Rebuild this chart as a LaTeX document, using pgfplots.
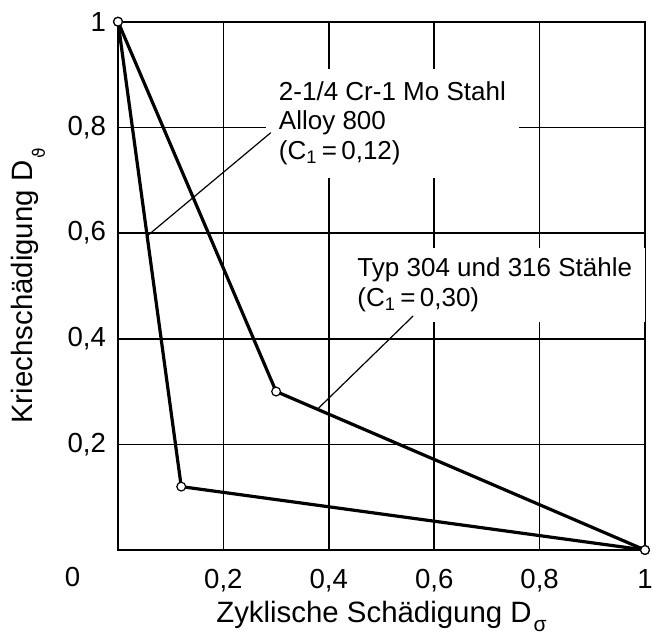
\documentclass[border=0pt]{standalone}
\usepackage{fontspec}
\setmainfont{Liberation Sans}
\newfontfamily\dejavu{DejaVu Sans}
\usepackage{pgfplots}
\pgfplotsset{compat=1.18}

\begin{document}
\begin{tikzpicture}
\begin{axis}[
    scale only axis,
    width=263.5pt, height=264.15pt,
    xmin=0, xmax=1, ymin=0, ymax=1,
    xtick={0.2,0.4,0.6,0.8,1},
    ytick={0.2,0.4,0.6,0.8,1},
    xticklabels={{0,2},{0,4},{0,6},{0,8},1},
    yticklabels={{0,2},{0,4},{0,6},{0,8},1},
    major tick length=0pt,
    grid=major,
    major grid style={black, line width=0.85pt},
    axis line style={black, line width=1.2pt},
    tick label style={font=\fontsize{13.8}{16}\selectfont},
    xticklabel style={yshift=-6pt},
    yticklabel style={xshift=-2.5pt},
    label style={font=\fontsize{14.7}{16}\selectfont},
    xlabel={Zyklische Schädigung D\hspace{1pt}\raisebox{-4.5pt}{\fontsize{10.5}{10.5}\selectfont σ}},
    ylabel={Kriechschädigung D\hspace{1pt}\raisebox{-6pt}{\fontsize{8.5}{8.5}\dejavu ϑ}},
    xlabel style={at={(axis description cs:0.5,-0.138)}, anchor=base},
    ylabel style={at={(axis description cs:-0.1615,0.5)}, anchor=base, rotate=0},
    clip=false,
]

% labels with white boxes (drawn before the curves, over the grid)
\node[fill=white, anchor=west, align=left, inner xsep=6.5pt, inner ysep=6.5pt,
      font=\fontsize{13}{14.7}\selectfont]
    at (axis cs:0.280,0.808)
    {2-1/4 Cr-1 Mo Stahl\\Alloy 800\\(C\textsubscript{1}\,=\,0,12)};
\node[fill=white, anchor=west, align=left, inner xsep=6.5pt, inner ysep=5pt,
      font=\fontsize{13}{14.7}\selectfont]
    at (axis cs:0.429,0.502)
    {Typ 304 und 316 Stähle\\(C\textsubscript{1}\,=\,0,30)};

\node[font=\fontsize{13.8}{16}\selectfont] at (axis description cs:-0.0863,-0.0511) {0};

% leader lines
\addplot[black, line width=0.6pt] coordinates {(0.290,0.790) (0.056,0.595)};
\addplot[black, line width=0.6pt] coordinates {(0.560,0.443) (0.379,0.267)};

% C1 = 0.12
\addplot[black, line width=1.6pt, mark=*, mark size=2.2pt,
    mark options={fill=white, draw=black, line width=0.6pt}]
    coordinates {(0,1) (0.12,0.12) (1,0)};
% C1 = 0.30
\addplot[black, line width=1.6pt, mark=*, mark size=2.2pt,
    mark options={fill=white, draw=black, line width=0.6pt}]
    coordinates {(0,1) (0.30,0.30) (1,0)};

\end{axis}
\pgfresetboundingbox
\useasboundingbox (-59pt,-42pt) rectangle (267pt,275pt);
\end{tikzpicture}
\end{document}
